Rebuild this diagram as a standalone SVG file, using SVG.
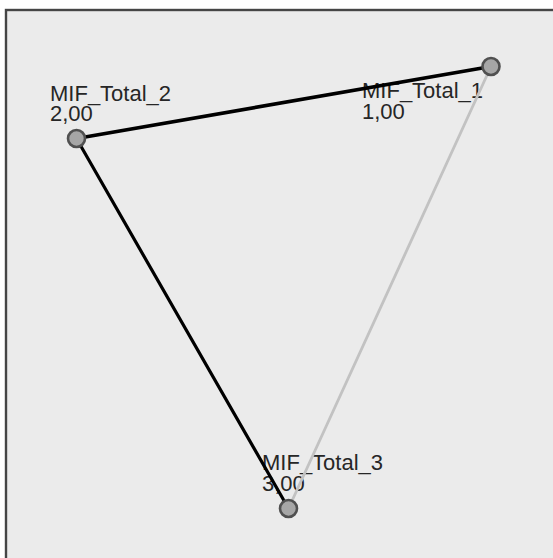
<svg xmlns="http://www.w3.org/2000/svg" width="553" height="558" viewBox="0 0 553 558">
<style>
.lbl{font-family:"Liberation Sans",Arial,sans-serif;font-size:22px;fill:#262626}
.node{fill:#a6a6a6;stroke:#505050;stroke-width:2.6}
</style>
<rect x="0" y="0" width="553" height="558" fill="#ffffff"/>
<rect x="6" y="10" width="560" height="560" fill="#ebebeb" stroke="#454545" stroke-width="2.4"/>
<g id="labels">
<g id="label-1"><text class="lbl" x="362" y="98">MIF_Total_1</text><text class="lbl" x="362" y="119">1,00</text></g>
<g id="label-2"><text class="lbl" x="50" y="101">MIF_Total_2</text><text class="lbl" x="50" y="121">2,00</text></g>
<g id="label-3"><text class="lbl" x="262" y="470">MIF_Total_3</text><text class="lbl" x="262" y="491">3,00</text></g>
</g>
<g id="connectors" fill="none" stroke-linecap="round">
<line x1="76.5" y1="138.5" x2="491" y2="66.5" stroke="#000" stroke-width="3.8"/>
<line x1="76.5" y1="138.5" x2="288.5" y2="508.5" stroke="#000" stroke-width="3.2"/>
<line x1="491" y1="66.5" x2="288.5" y2="508.5" stroke="#c2c2c2" stroke-width="2.8"/>
</g>
<g id="node-1"><circle class="node" cx="491" cy="66.5" r="8.5"/></g>
<g id="node-2"><circle class="node" cx="76.5" cy="138.5" r="8.5"/></g>
<g id="node-3"><circle class="node" cx="288.5" cy="508.5" r="8.5"/></g>
</svg>
